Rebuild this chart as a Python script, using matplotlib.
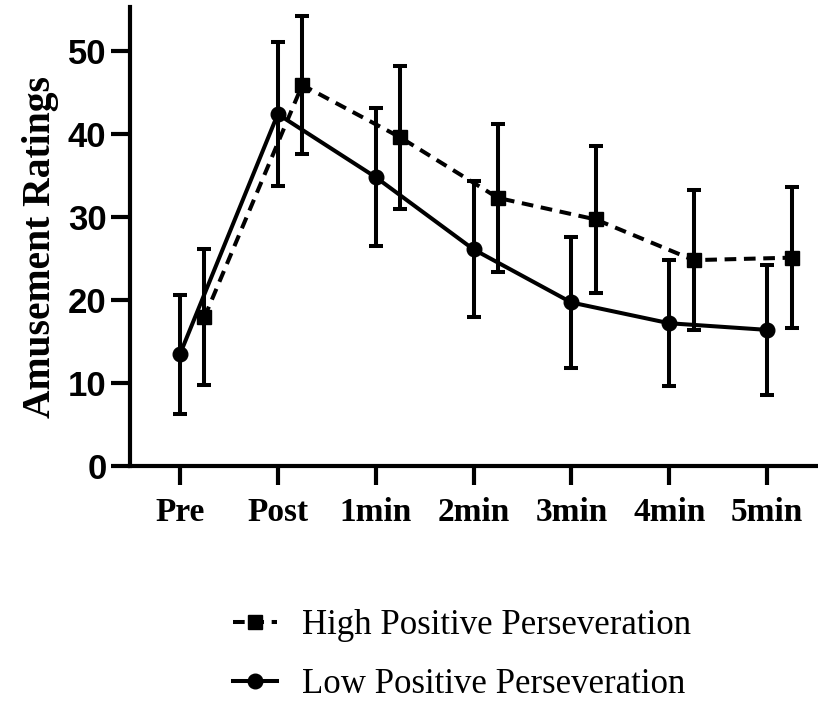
import matplotlib
matplotlib.use("Agg")
import matplotlib.pyplot as plt
from matplotlib.lines import Line2D
import numpy as np

categories = ["Pre", "Post", "1min", "2min", "3min", "4min", "5min"]
low_mean = [13.45, 42.4, 34.8, 26.1, 19.7, 17.2, 16.4]
low_err = [7.2, 8.7, 8.3, 8.2, 7.9, 7.6, 7.8]
high_mean = [17.9, 45.9, 39.6, 32.3, 29.7, 24.8, 25.1]
high_err = [8.2, 8.3, 8.6, 8.9, 8.9, 8.45, 8.5]
yticks = [0, 10, 20, 30, 40, 50]

fig = plt.figure(figsize=(8.18, 7.03), dpi=100)
ax = fig.add_axes([130/818, 237/703, 1 - 130/818, (466-7)/703])

x = np.arange(len(categories))
offset = 0.25
lw = 2.9
dash = (0, (2.9, 1.9))

ax.errorbar(x, low_mean, yerr=low_err, color="black", lw=lw, marker="o",
            markersize=10.5, capsize=4.8, capthick=lw, elinewidth=lw, zorder=3)
ax.errorbar(x + offset, high_mean, yerr=high_err, color="black", lw=lw,
            ls=dash, marker="s", markersize=9.5, capsize=4.8,
            capthick=lw, elinewidth=lw, zorder=3)

ax.set_xlim(-0.51, 6.52)
ax.set_ylim(0, 55.3)
ax.set_xticks(x)
ax.set_xticklabels(categories, family="Liberation Serif", fontweight="bold", fontsize=24)
ax.set_yticks(yticks)
ax.set_yticklabels([str(t) for t in yticks], family="Liberation Sans", fontweight="bold", fontsize=25)
fig.text(41/818, 1 - 247/703, "Amusement Ratings", rotation=90, ha="center", va="center",
         family="Liberation Serif", fontweight="bold", fontsize=28.5)

for s in ["top", "right"]:
    ax.spines[s].set_visible(False)
for s in ["left", "bottom"]:
    ax.spines[s].set_linewidth(3)
ax.tick_params(axis="both", width=3, length=13.5, color="black")
ax.tick_params(axis="x", pad=9)
ax.tick_params(axis="y", pad=3.5)

h_high = Line2D([], [], color="black", lw=lw, ls=dash, marker="s", markersize=9.5)
h_low = Line2D([], [], color="black", lw=lw, ls="-", marker="o", markersize=10.5)
fig.legend([h_high, h_low], ["High Positive Perseveration", "Low Positive Perseveration"],
           loc="center left", bbox_to_anchor=(202/818, 1 - 655/703), frameon=False,
           prop={"family": "Liberation Serif", "size": 25}, handlelength=1.27,
           labelspacing=0.74, handletextpad=0.72, borderpad=0.4)

fig.savefig("out.png", dpi=100)
